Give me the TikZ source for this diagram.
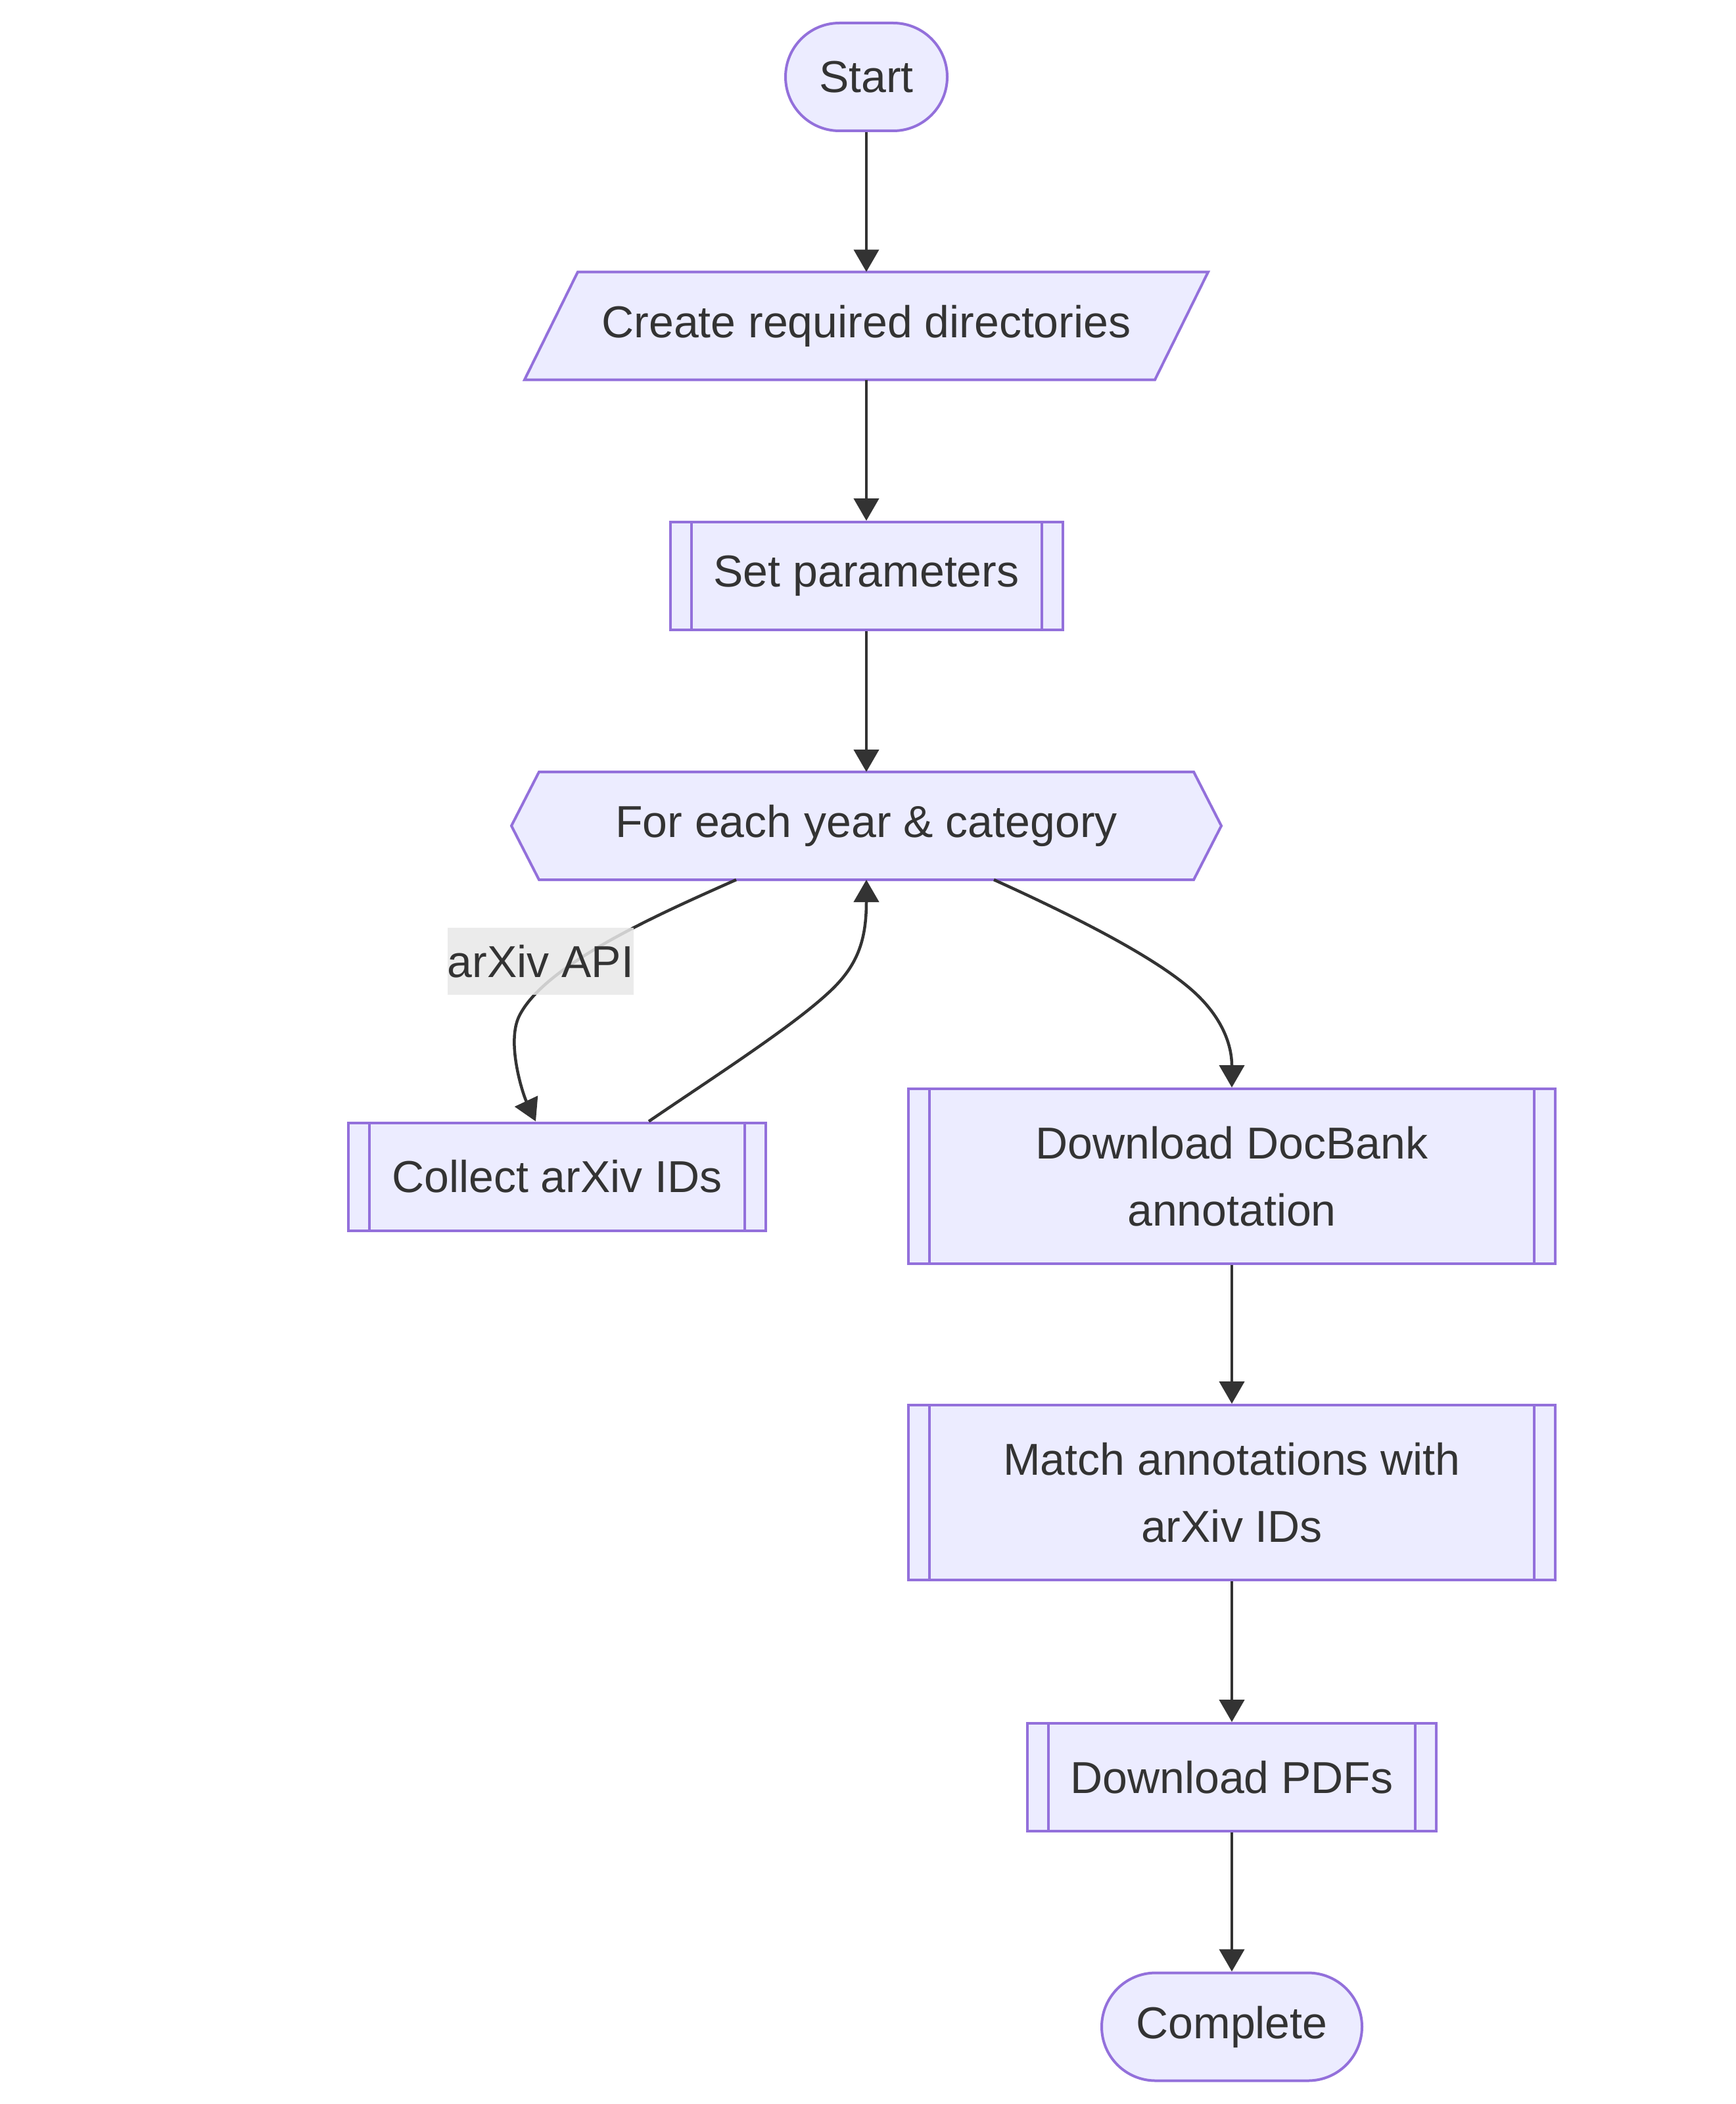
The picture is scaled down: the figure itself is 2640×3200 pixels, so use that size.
\documentclass[tikz,border=0pt]{standalone}
\usepackage{fontspec}
\setmainfont{Liberation Sans}
\usetikzlibrary{arrows.meta,backgrounds}
\definecolor{nodefill}{HTML}{ECECFF}
\definecolor{nodeline}{HTML}{9370DB}
\definecolor{ink}{HTML}{333333}
\definecolor{lblbg}{HTML}{E8E8E8}
\begin{document}
\begin{tikzpicture}[x=1pt,y=-1pt,
  base/.style={inner sep=0pt, text=ink, font=\fontsize{68}{101.5}\selectfont, align=center, line width=4pt},
  box/.style={base, draw=nodeline, fill=nodefill, minimum height=164pt},
  term/.style={box, rounded corners=82pt},
  plain/.style={base, outer sep=0pt, minimum height=164pt},
  shapeline/.style={draw=nodeline, fill=nodefill, line width=4pt, line join=miter},
  subline/.style={draw=nodeline, line width=4pt},
  edge/.style={draw=ink, line width=4.5pt, -{Triangle[length=34pt,width=38pt]}},
  lbl/.style={base, fill=lblbg, fill opacity=0.85, text opacity=1, minimum width=281pt, minimum height=102pt}
]
\useasboundingbox (0,0) rectangle (2640,3200);

% nodes
\node[term, minimum width=246pt] (start) at (1318,117) {Start};
\node[plain, minimum width=1040pt] (cr) at (1318,495.5) {Create required directories};
\node[box, minimum width=597pt] (sp) at (1318,876) {Set parameters};
\node[plain, minimum width=1080pt] (fe) at (1318,1256) {For each year \& category};
\node[box, minimum width=635pt] (col) at (847.5,1789.5) {Collect arXiv IDs};
\node[box, minimum width=984pt, minimum height=266pt] (db) at (1874,1789) {Download DocBank\\annotation};
\node[box, minimum width=984pt, minimum height=266pt] (ma) at (1874,2270) {Match annotations with\\arXiv IDs};
\node[box, minimum width=622pt] (pdf) at (1874,2703) {Download PDFs};
\node[term, minimum width=396pt] (done) at (1874,3082.5) {Complete};

% white page and special shapes behind text
\begin{scope}[on background layer]
\fill[white] (0,0) rectangle (2640,3200);
\path[shapeline] ([xshift=81pt]cr.north west) -- (cr.north east) -- ([xshift=-81pt]cr.south east) -- (cr.south west) -- cycle;
\path[shapeline] (fe.west) -- ([xshift=42pt]fe.north west) -- ([xshift=-42pt]fe.north east) -- (fe.east) -- ([xshift=-42pt]fe.south east) -- ([xshift=42pt]fe.south west) -- cycle;
\end{scope}

% subroutine inner lines
\foreach \n in {sp,col,db,ma,pdf} {
  \path[subline] ([xshift=34pt]\n.north west) -- ([xshift=34pt]\n.south west)
    ([xshift=-34pt]\n.north east) -- ([xshift=-34pt]\n.south east);
}

% connectors
\draw[edge] (start.south) -- (cr.north);
\draw[edge] (cr.south) -- (sp.north);
\draw[edge] (sp.south) -- (fe.north);
\draw[edge] ([xshift=-198pt]fe.south) .. controls (1010,1387) and (830,1465) .. (790,1545) .. controls (770,1585) and (795,1663) .. ([xshift=-32.5pt]col.north);
\draw[edge] ([xshift=139.5pt]col.north) .. controls (1080,1642) and (1200,1565) .. (1258,1512) .. controls (1305,1470) and (1318,1430) .. (fe.south);
\draw[edge] ([xshift=194pt]fe.south) .. controls (1620,1387) and (1760,1455) .. (1820,1512) .. controls (1860,1550) and (1874,1590) .. (db.north);
\draw[edge] (db.south) -- (ma.north);
\draw[edge] (ma.south) -- (pdf.north);
\draw[edge] (pdf.south) -- (done.north);

% edge label
\node[lbl] (api) at (822.5,1462) {arXiv API};
\end{tikzpicture}
\end{document}
